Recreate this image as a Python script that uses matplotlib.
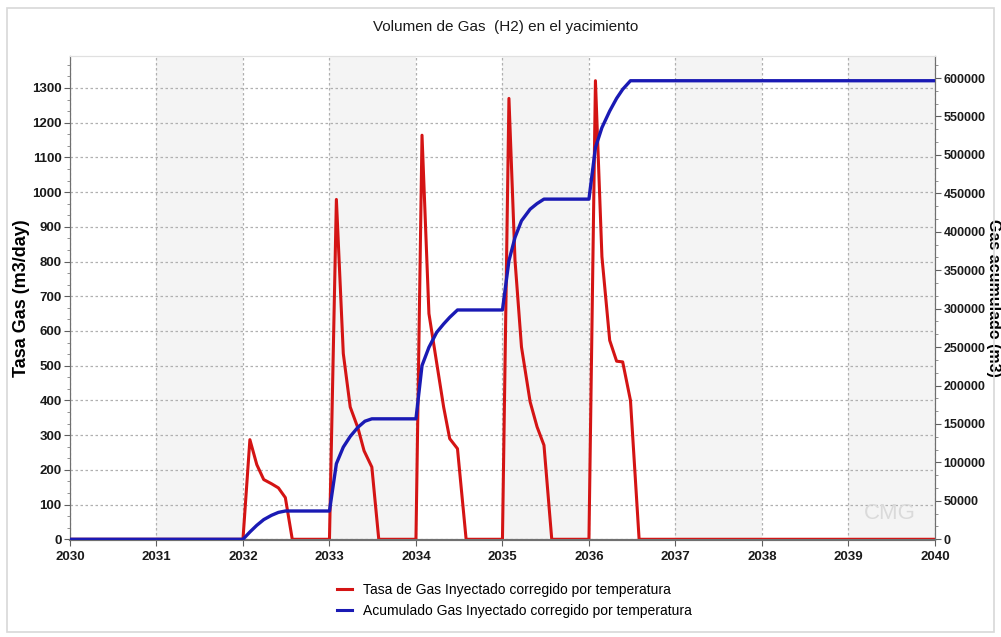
import matplotlib
matplotlib.use("Agg")
import matplotlib.pyplot as plt
from matplotlib.ticker import MultipleLocator
from matplotlib.patches import Rectangle

# ---- data ----
rate_years = [2030.0, 2032.0, 2032.08, 2032.16, 2032.24, 2032.33, 2032.41, 2032.49, 2032.57,
              2033.0, 2033.08, 2033.16, 2033.24, 2033.33, 2033.40, 2033.49, 2033.57,
              2034.0, 2034.07, 2034.15, 2034.32, 2034.39, 2034.48, 2034.58,
              2035.0, 2035.075, 2035.145, 2035.22, 2035.32, 2035.40, 2035.48, 2035.57,
              2036.0, 2036.075, 2036.15, 2036.24, 2036.32, 2036.39, 2036.48, 2036.58,
              2040.0]
rate_values = [0, 0, 287, 215, 172, 160, 148, 120, 0,
               0, 979, 535, 381, 320, 255, 208, 0,
               0, 1164, 650, 381, 290, 261, 0,
               0, 1270, 804, 554, 396, 324, 271, 0,
               0, 1321, 814, 573, 513, 511, 400, 0,
               0]

cum_years = [2030.0, 2032.0, 2032.08, 2032.16, 2032.24, 2032.33, 2032.41, 2032.49,
             2033.0, 2033.08, 2033.16, 2033.24, 2033.33, 2033.41, 2033.49,
             2034.0, 2034.07, 2034.15, 2034.24, 2034.32, 2034.39, 2034.48,
             2035.0, 2035.075, 2035.145, 2035.22, 2035.32, 2035.40, 2035.48,
             2036.0, 2036.075, 2036.15, 2036.24, 2036.32, 2036.39, 2036.48,
             2040.0]
cum_values = [0, 0, 9500, 18200, 25600, 31200, 35000, 36800,
              36800, 98300, 119900, 133800, 145800, 153600, 156700,
              156700, 226000, 249700, 269200, 280100, 288700, 298300,
              298300, 362300, 392600, 414300, 429400, 436700, 442500,
              442500, 509500, 535500, 557100, 573600, 585300, 596500,
              596500]

year_ticks = list(range(2030, 2041))
rate_ticks = list(range(0, 1301, 100))
cum_ticks = list(range(0, 600001, 50000))

title = "Volumen de Gas  (H2) en el yacimiento"
left_label = "Tasa Gas (m3/day)"
right_label = "Gas acumulado (m3)"
rate_name = "Tasa de Gas Inyectado corregido por temperatura"
cum_name = "Acumulado Gas Inyectado corregido por temperatura"

# ---- figure ----
plt.rcParams['font.family'] = ['Liberation Sans', 'DejaVu Sans']

fig = plt.figure(figsize=(10.01, 6.37), dpi=100)
fig.patches.append(Rectangle((0.007, 0.008), 0.986, 0.98, transform=fig.transFigure,
                             fill=False, edgecolor='#d8d8d8', linewidth=1.2))

ax = fig.add_axes([0.0699, 0.1523, 0.8641, 0.7597])
ax2 = ax.twinx()

ax.set_xlim(2030, 2040)
ax.set_ylim(-2, 1392)
ax2.set_ylim(-900, 628600)

# alternating bands
for y0 in range(2031, 2040, 2):
    ax.axvspan(y0, y0 + 1, color='#f4f4f4', zorder=0, linewidth=0)

ax.set_xticks(year_ticks)
ax.set_yticks(rate_ticks)
ax.yaxis.set_minor_locator(MultipleLocator(100 / 3))
ax2.set_yticks(cum_ticks)
ax2.yaxis.set_minor_locator(MultipleLocator(50000 / 3))

ax.grid(True, which='major', color='#b0b0b0', linestyle=(0, (2, 2)), linewidth=0.9)
ax.set_axisbelow(True)

ax.plot(rate_years, rate_values, color='#d41414', linewidth=2.2, zorder=3, solid_joinstyle='round')
ax2.plot(cum_years, cum_values, color='#1a1ab4', linewidth=2.4, zorder=3, solid_joinstyle='round')

ax.set_xticklabels([str(y) for y in year_ticks], fontsize=9.5, fontweight='bold')
ax.set_yticklabels([str(v) for v in rate_ticks], fontsize=9.5, fontweight='bold')
ax2.set_yticklabels([str(v) for v in cum_ticks], fontsize=9, fontweight='bold')

for a in (ax, ax2):
    a.tick_params(axis='both', which='major', length=4, width=0.8, color='#606060', pad=2, labelcolor='#1a1a1a')
    a.tick_params(axis='both', which='minor', length=2, width=0.6, color='#808080')
    a.spines['top'].set_color('#e0e0e0')
    a.spines['left'].set_color('#707070')
    a.spines['right'].set_color('#707070')
    a.spines['bottom'].set_color('#707070')
    a.spines['bottom'].set_linewidth(1.5)
ax.tick_params(axis='x', pad=4)

ax.set_ylabel(left_label, fontsize=13, fontweight='bold', va='center')
ax.yaxis.set_label_coords(-0.0555, 0.5)
ax2.set_ylabel(right_label, fontsize=11.5, fontweight='bold', rotation=-90, va='center')
ax2.yaxis.set_label_coords(1.0675, 0.5)

fig.text(0.505, 0.957, title, ha='center', va='center', fontsize=11, color='#1a1a1a')

# watermark
ax.text(2039.48, 75, "CMG", fontsize=16, color='#dadada', ha='center', va='center', zorder=1)

# legend
h1, = ax.plot([], [], color='#d41414', linewidth=2.2)
h2, = ax.plot([], [], color='#1a1ab4', linewidth=2.2)
fig.legend([h1, h2], [rate_name, cum_name], loc='center', bbox_to_anchor=(0.514, 0.058),
           frameon=False, fontsize=10, handlelength=1.1, handletextpad=0.8, labelspacing=0.5)

fig.savefig("out.png", dpi=100)
